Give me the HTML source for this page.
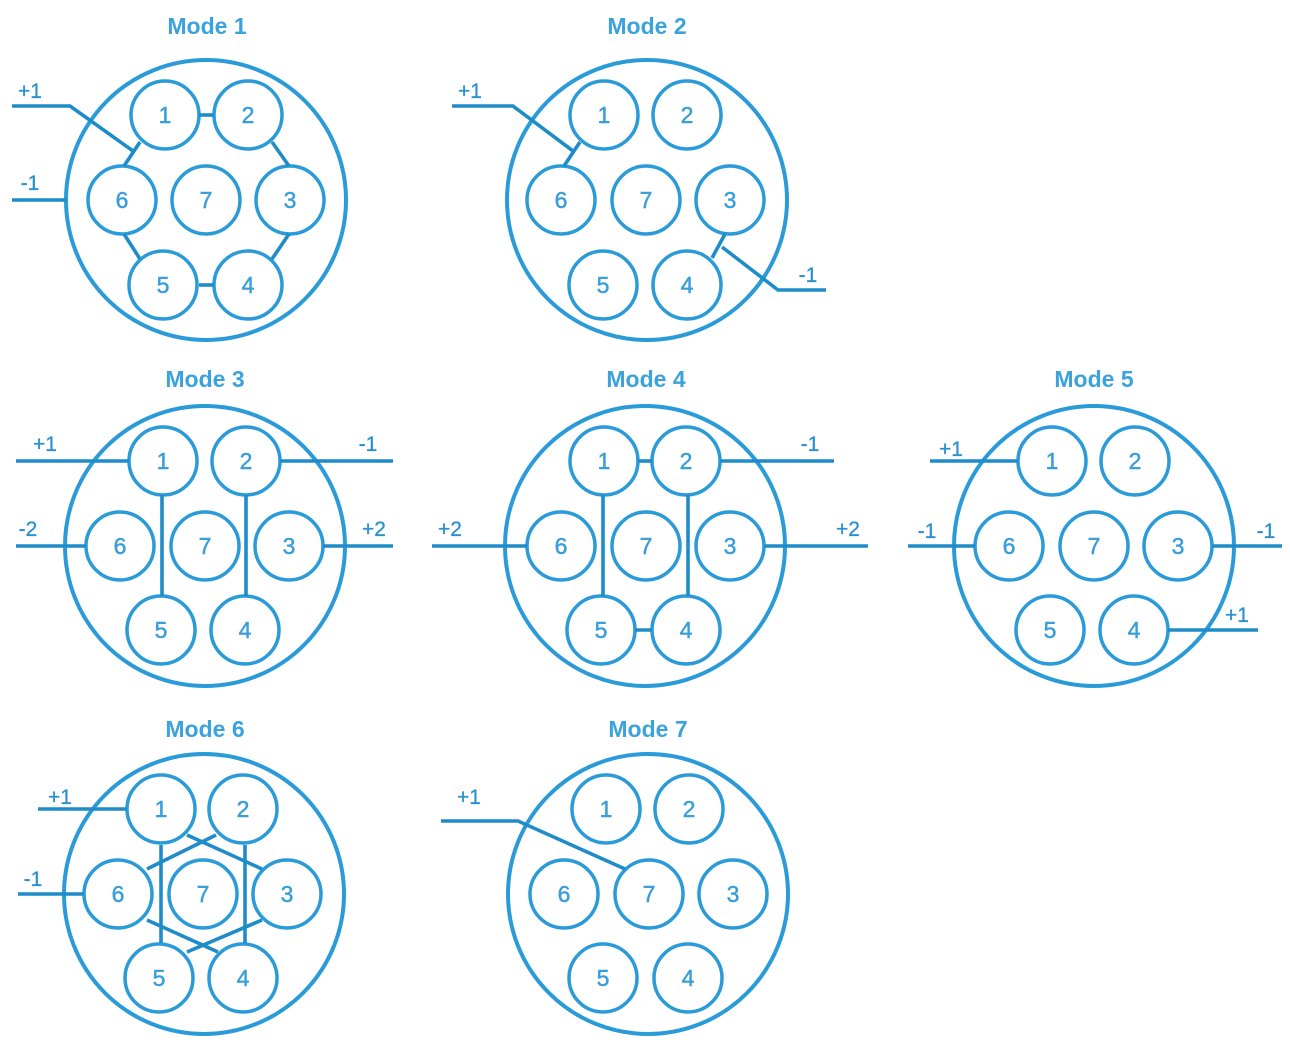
<!DOCTYPE html>
<html><head><meta charset="utf-8"><style>
html,body{margin:0;padding:0;background:#fff;width:1290px;height:1046px;overflow:hidden}
svg{display:block}
.b{fill:none;stroke:#2a9bd8;stroke-width:4}
.s{fill:none;stroke:#2a9bd8;stroke-width:3.5}
.l{fill:none;stroke:#1f8cca;stroke-width:3.6}
.n{font-family:"Liberation Sans",sans-serif;font-size:23px;fill:#3a9fd9;text-anchor:middle;stroke:#3a9fd9;stroke-width:0.5}
.t{font-family:"Liberation Sans",sans-serif;font-size:23px;font-weight:bold;fill:#3aa2dc;text-anchor:middle}
.p{font-family:"Liberation Sans",sans-serif;font-size:21px;fill:#2a90cf;text-anchor:middle;stroke:#2a90cf;stroke-width:0.3}
</style></head><body>
<svg width="1290" height="1046" viewBox="0 0 1290 1046">
<!-- Mode 1 -->
<text class="t" x="207" y="34">Mode 1</text>
<circle class="b" cx="206" cy="200" r="140"/>
<g class="s">
<circle cx="165" cy="115" r="34"/><circle cx="248" cy="115" r="34"/>
<circle cx="122" cy="200" r="34"/><circle cx="206" cy="200" r="34"/><circle cx="290" cy="200" r="34"/>
<circle cx="163" cy="285" r="34"/><circle cx="248" cy="285" r="34"/>
</g>
<g class="n"><text x="165" y="123">1</text><text x="248" y="123">2</text><text x="122" y="208">6</text><text x="206" y="208">7</text><text x="290" y="208">3</text><text x="163" y="293">5</text><text x="248" y="293">4</text></g>
<g class="l">
<line x1="199" y1="115" x2="214" y2="115"/><line x1="199" y1="285" x2="214" y2="285"/>
<line x1="272" y1="142" x2="289" y2="166"/><line x1="289" y1="234" x2="272" y2="259"/>
<line x1="140" y1="142" x2="124" y2="166"/><line x1="124" y1="234" x2="140" y2="259"/>
<polyline points="12,106 70,106 133,151"/>
<line x1="12" y1="200" x2="66" y2="200"/>
</g>
<text class="p" x="30" y="98">+1</text><text class="p" x="30" y="190">-1</text>

<!-- Mode 2 -->
<text class="t" x="647" y="34">Mode 2</text>
<circle class="b" cx="647" cy="200" r="140"/>
<g class="s">
<circle cx="604" cy="115" r="34"/><circle cx="687" cy="115" r="34"/>
<circle cx="561" cy="200" r="34"/><circle cx="646" cy="200" r="34"/><circle cx="730" cy="200" r="34"/>
<circle cx="603" cy="285" r="34"/><circle cx="687" cy="285" r="34"/>
</g>
<g class="n"><text x="604" y="123">1</text><text x="687" y="123">2</text><text x="561" y="208">6</text><text x="646" y="208">7</text><text x="730" y="208">3</text><text x="603" y="293">5</text><text x="687" y="293">4</text></g>
<g class="l">
<line x1="580" y1="142" x2="564" y2="166"/>
<polyline points="452,106 513,106 573,151"/>
<line x1="725" y1="234" x2="712" y2="258"/>
<polyline points="722,247 778,290 826,290"/>
</g>
<text class="p" x="470" y="98">+1</text><text class="p" x="808" y="282">-1</text>

<!-- Mode 3 -->
<text class="t" x="205" y="387">Mode 3</text>
<circle class="b" cx="205" cy="546" r="140"/>
<g class="s">
<circle cx="163" cy="461" r="34"/><circle cx="246" cy="461" r="34"/>
<circle cx="120" cy="546" r="34"/><circle cx="205" cy="546" r="34"/><circle cx="289" cy="546" r="34"/>
<circle cx="161" cy="630" r="34"/><circle cx="245" cy="630" r="34"/>
</g>
<g class="n"><text x="163" y="469">1</text><text x="246" y="469">2</text><text x="120" y="554">6</text><text x="205" y="554">7</text><text x="289" y="554">3</text><text x="161" y="638">5</text><text x="245" y="638">4</text></g>
<g class="l">
<line x1="162" y1="495" x2="162" y2="596"/><line x1="246" y1="495" x2="246" y2="596"/>
<line x1="16" y1="461" x2="129" y2="461"/><line x1="280" y1="461" x2="393" y2="461"/>
<line x1="16" y1="546" x2="86" y2="546"/><line x1="323" y1="546" x2="393" y2="546"/>
</g>
<text class="p" x="45" y="451">+1</text><text class="p" x="368" y="451">-1</text>
<text class="p" x="28" y="536">-2</text><text class="p" x="374" y="536">+2</text>

<!-- Mode 4 -->
<text class="t" x="646" y="387">Mode 4</text>
<circle class="b" cx="645" cy="546" r="140"/>
<g class="s">
<circle cx="604" cy="461" r="34"/><circle cx="686" cy="461" r="34"/>
<circle cx="561" cy="546" r="34"/><circle cx="646" cy="546" r="34"/><circle cx="730" cy="546" r="34"/>
<circle cx="601" cy="630" r="34"/><circle cx="686" cy="630" r="34"/>
</g>
<g class="n"><text x="604" y="469">1</text><text x="686" y="469">2</text><text x="561" y="554">6</text><text x="646" y="554">7</text><text x="730" y="554">3</text><text x="601" y="638">5</text><text x="686" y="638">4</text></g>
<g class="l">
<line x1="638" y1="461" x2="652" y2="461"/><line x1="635" y1="630" x2="652" y2="630"/>
<line x1="603" y1="495" x2="603" y2="596"/><line x1="688" y1="495" x2="688" y2="596"/>
<line x1="720" y1="461" x2="834" y2="461"/>
<line x1="432" y1="546" x2="527" y2="546"/><line x1="764" y1="546" x2="868" y2="546"/>
</g>
<text class="p" x="810" y="451">-1</text><text class="p" x="450" y="536">+2</text><text class="p" x="848" y="536">+2</text>

<!-- Mode 5 -->
<text class="t" x="1094" y="387">Mode 5</text>
<circle class="b" cx="1094" cy="546" r="140"/>
<g class="s">
<circle cx="1052" cy="461" r="34"/><circle cx="1135" cy="461" r="34"/>
<circle cx="1009" cy="546" r="34"/><circle cx="1094" cy="546" r="34"/><circle cx="1178" cy="546" r="34"/>
<circle cx="1050" cy="630" r="34"/><circle cx="1134" cy="630" r="34"/>
</g>
<g class="n"><text x="1052" y="469">1</text><text x="1135" y="469">2</text><text x="1009" y="554">6</text><text x="1094" y="554">7</text><text x="1178" y="554">3</text><text x="1050" y="638">5</text><text x="1134" y="638">4</text></g>
<g class="l">
<line x1="930" y1="461" x2="1018" y2="461"/>
<line x1="908" y1="546" x2="975" y2="546"/><line x1="1212" y1="546" x2="1282" y2="546"/>
<line x1="1168" y1="630" x2="1258" y2="630"/>
</g>
<text class="p" x="951" y="456">+1</text><text class="p" x="927" y="538">-1</text><text class="p" x="1266" y="538">-1</text><text class="p" x="1237" y="622">+1</text>

<!-- Mode 6 -->
<text class="t" x="205" y="737">Mode 6</text>
<circle class="b" cx="204" cy="894" r="140"/>
<g class="s">
<circle cx="161" cy="809" r="34"/><circle cx="243" cy="809" r="34"/>
<circle cx="118" cy="894" r="34"/><circle cx="203" cy="894" r="34"/><circle cx="287" cy="894" r="34"/>
<circle cx="159" cy="978" r="34"/><circle cx="243" cy="978" r="34"/>
</g>
<g class="n"><text x="161" y="817">1</text><text x="243" y="817">2</text><text x="118" y="902">6</text><text x="203" y="902">7</text><text x="287" y="902">3</text><text x="159" y="986">5</text><text x="243" y="986">4</text></g>
<g class="l">
<line x1="161" y1="845" x2="161" y2="943"/><line x1="245" y1="845" x2="245" y2="943"/>
<line x1="187" y1="835" x2="262" y2="869"/><line x1="216" y1="835" x2="147" y2="869"/>
<line x1="147" y1="920" x2="218" y2="952"/><line x1="262" y1="920" x2="187" y2="952"/>
<line x1="38" y1="809" x2="127" y2="809"/><line x1="18" y1="894" x2="84" y2="894"/>
</g>
<text class="p" x="60" y="804">+1</text><text class="p" x="33" y="886">-1</text>

<!-- Mode 7 -->
<text class="t" x="648" y="737">Mode 7</text>
<circle class="b" cx="648" cy="894" r="140"/>
<g class="s">
<circle cx="606" cy="809" r="34"/><circle cx="689" cy="809" r="34"/>
<circle cx="564" cy="894" r="34"/><circle cx="649" cy="894" r="34"/><circle cx="733" cy="894" r="34"/>
<circle cx="603" cy="978" r="34"/><circle cx="688" cy="978" r="34"/>
</g>
<g class="n"><text x="606" y="817">1</text><text x="689" y="817">2</text><text x="564" y="902">6</text><text x="649" y="902">7</text><text x="733" y="902">3</text><text x="603" y="986">5</text><text x="688" y="986">4</text></g>
<g class="l"><polyline points="441,821 518,821 625,869"/></g>
<text class="p" x="469" y="804">+1</text>
</svg>
</body></html>
